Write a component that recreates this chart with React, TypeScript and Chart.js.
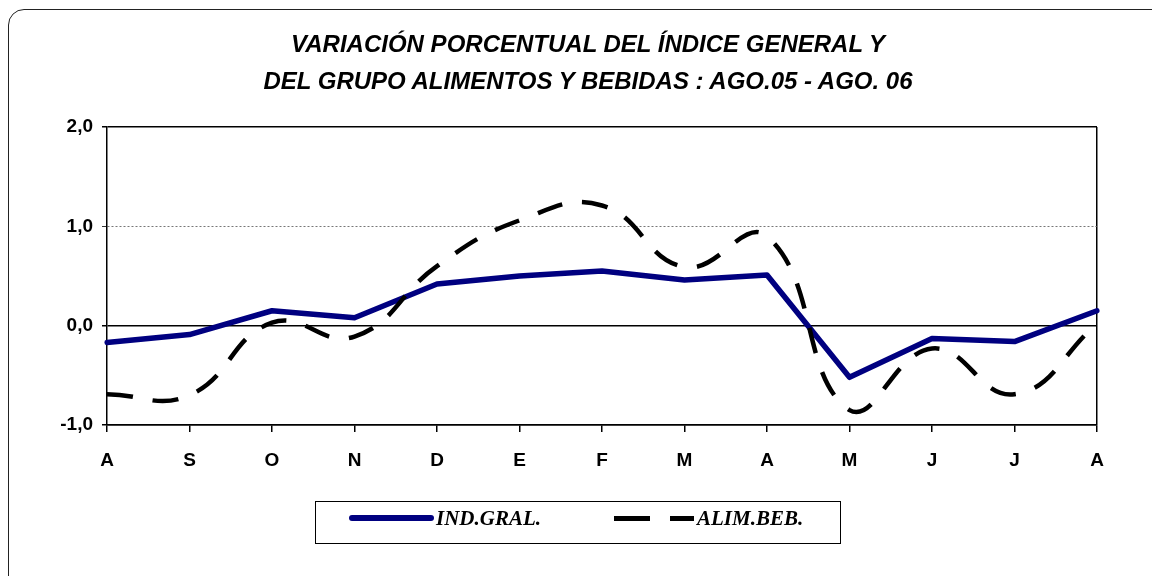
import React, { useEffect, useRef } from "react";
import { Chart, registerables } from "chart.js";

Chart.register(...registerables);

const categories = ["A", "S", "O", "N", "D", "E", "F", "M", "A", "M", "J", "J", "A"];
const indGral = [-0.17, -0.09, 0.15, 0.08, 0.42, 0.5, 0.55, 0.46, 0.51, -0.52, -0.13, -0.16, 0.15];
const alimBeb = [-0.69, -0.7, 0.03, -0.11, 0.6, 1.06, 1.21, 0.59, 0.9, -0.85, -0.23, -0.69, 0.02];
const yTicks = [-1, 0, 1, 2];
const titleLines = [
  "VARIACIÓN PORCENTUAL DEL ÍNDICE GENERAL Y",
  "DEL GRUPO ALIMENTOS Y BEBIDAS : AGO.05 - AGO. 06",
];
const legendLabels = ["IND.GRAL.", "ALIM.BEB."];

export default function App() {
  const canvasRef = useRef<HTMLCanvasElement | null>(null);

  useEffect(() => {
    if (!canvasRef.current) return;
    const chart = new Chart(canvasRef.current, {
      type: "line",
      data: {
        labels: categories,
        datasets: [
          {
            label: legendLabels[0],
            data: indGral,
            borderColor: "#000080",
            borderWidth: 5.5,
            tension: 0,
            pointRadius: 0,
            borderCapStyle: "round",
            borderJoinStyle: "round",
            fill: false,
            order: 1,
          },
          {
            label: legendLabels[1],
            data: alimBeb,
            borderColor: "#000000",
            borderWidth: 4.5,
            borderDash: [26, 20],
            tension: 0.45,
            pointRadius: 0,
            fill: false,
            order: 0,
          },
        ],
      },
      options: {
        animation: false,
        responsive: false,
        layout: { padding: { left: 30, right: 55, top: 127, bottom: 101 } },
        plugins: {
          legend: { display: false },
          title: { display: false },
          tooltip: { enabled: false },
        },
        scales: {
          x: {
            offset: false,
            afterFit: (s: any) => {
              s.height = 50;
            },
            grid: {
              drawOnChartArea: true,
              drawTicks: true,
              tickLength: 7,
              color: (ctx: any) => (ctx.index === categories.length - 1 ? "#000" : "rgba(0,0,0,0)"),
              tickColor: "#000",
              lineWidth: 1.5,
            },
            border: { display: true, color: "#000", width: 1.5 },
            ticks: {
              color: "#000",
              padding: 17,
              maxRotation: 0,
              autoSkip: false,
              font: { family: "'Liberation Sans', Arial, sans-serif", size: 19, weight: "bold" },
            },
          },
          y: {
            min: -1,
            max: 2,
            afterFit: (s: any) => {
              s.width = 77;
            },
            afterBuildTicks: (s: any) => {
              s.ticks = yTicks.map((v) => ({ value: v }));
            },
            grid: {
              drawTicks: true,
              tickLength: 5,
              color: (ctx: any) => {
                const v = ctx.tick ? ctx.tick.value : null;
                if (v === 1) return "#555";
                return "#000";
              },
              lineWidth: (ctx: any) => {
                const v = ctx.tick ? ctx.tick.value : null;
                return v === 1 ? 0.8 : 1.5;
              },
              tickColor: "#000",
            },
            border: {
              display: true,
              color: "#000",
              width: 1.5,
              dash: (ctx: any) => (ctx.tick && ctx.tick.value === 1 ? [2, 2] : []),
            },
            ticks: {
              color: "#000",
              padding: 9,
              font: { family: "'Liberation Sans', Arial, sans-serif", size: 19, weight: "bold" },
              callback: (v: any) => Number(v).toFixed(1).replace(".", ","),
            },
          },
        },
      },
    });
    return () => chart.destroy();
  }, []);

  return (
    <div style={{ position: "absolute", left: 0, top: 0, width: 1152, height: 576, overflow: "hidden", background: "#fff" }}>
      <div
        style={{
          position: "absolute",
          left: 8,
          top: 9,
          width: 1170,
          height: 590,
          border: "1.5px solid #222",
          borderRadius: 16,
          boxSizing: "border-box",
        }}
      />
      <canvas ref={canvasRef} width={1152} height={576} style={{ position: "absolute", left: 0, top: 0 }} />
      {titleLines.map((t, i) => (
        <div
          key={i}
          style={{
            position: "absolute",
            left: 0,
            width: 1176,
            top: 29 + i * 37,
            textAlign: "center",
            fontFamily: "'Liberation Sans', Arial, sans-serif",
            fontStyle: "italic",
            fontWeight: "bold",
            fontSize: 24,
            lineHeight: "30px",
            whiteSpace: "nowrap",
          }}
        >
          {t}
        </div>
      ))}
      <div
        style={{
          position: "absolute",
          left: 315,
          top: 501,
          width: 526,
          height: 43,
          border: "1.5px solid #000",
          boxSizing: "border-box",
          fontFamily: "'Liberation Serif', 'Times New Roman', serif",
          fontStyle: "italic",
          fontWeight: "bold",
          fontSize: 21,
        }}
      >
        <div style={{ position: "absolute", left: 33, top: 13, width: 85, height: 6, background: "#000080", borderRadius: 3 }} />
        <div style={{ position: "absolute", left: 120, top: 3, lineHeight: "26px" }}>{legendLabels[0]}</div>
        <div style={{ position: "absolute", left: 298, top: 14, width: 36, height: 5, background: "#000" }} />
        <div style={{ position: "absolute", left: 354, top: 14, width: 24, height: 5, background: "#000" }} />
        <div style={{ position: "absolute", left: 381, top: 3, lineHeight: "26px" }}>{legendLabels[1]}</div>
      </div>
    </div>
  );
}
